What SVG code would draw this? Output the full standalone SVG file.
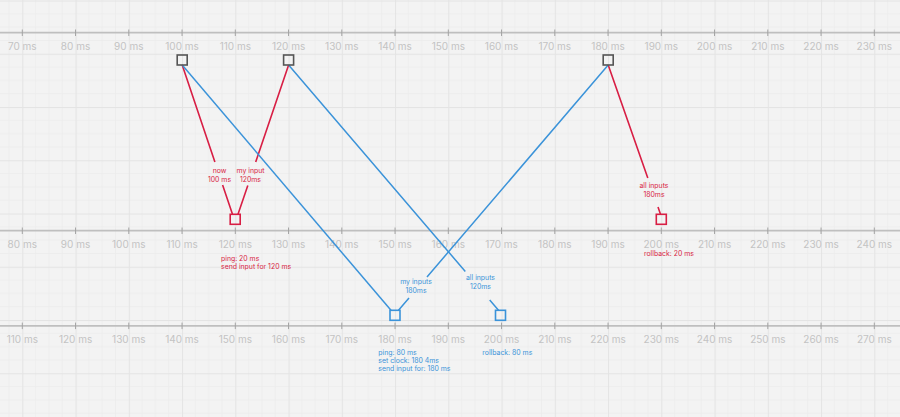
<svg xmlns="http://www.w3.org/2000/svg" width="900" height="417" viewBox="0 0 900 417">
<style>
.tl{font-family:Inter,"Noto Sans","Liberation Sans",sans-serif;font-size:10px;fill:#c3c3c3;text-anchor:middle}
.ax{stroke:#bfbfbf;stroke-width:1.7;fill:none}
.tk{stroke:#a3a3a3;stroke-width:1;fill:none}
.an{font-family:Inter,"Noto Sans","Liberation Sans",sans-serif;font-size:6.9px}
.r{fill:#d81e44}
.b{fill:#3b93d9}
.mid{text-anchor:middle}
.nd-g{fill:none;stroke:#555;stroke-width:1.6}
.nd-r{fill:none;stroke:#d81e44;stroke-width:1.6}
.nd-b{fill:none;stroke:#3b93d9;stroke-width:1.6}
.lr{stroke:#d81e44;stroke-width:1.6;fill:none}
.lb{stroke:#3b93d9;stroke-width:1.5;fill:none}
</style>
<defs>
<pattern id="grid" patternUnits="userSpaceOnUse" x="22.3" y="0.5" width="53.25" height="53.25">
<rect width="53.25" height="53.25" fill="#f3f3f3"/>
<path d="M13.31 0V53.25M26.63 0V53.25M39.94 0V53.25M0 13.31H53.25M0 26.63H53.25M0 39.94H53.25" stroke="#ebebeb" stroke-width="0.8"/>
<rect x="0" y="0" width="1" height="53.25" fill="#e4e4e4"/>
<rect x="0" y="0" width="53.25" height="1" fill="#e4e4e4"/>
</pattern>
</defs>
<rect width="900" height="417" fill="url(#grid)"/>

<g id="axis-top">
<line class="ax" x1="0" y1="32.7" x2="900" y2="32.7"/>
<path class="tk" d="M22.3 29.5v6.5M75.55 29.5v6.5M128.8 29.5v6.5M182.05 29.5v6.5M235.3 29.5v6.5M288.55 29.5v6.5M341.8 29.5v6.5M395.05 29.5v6.5M448.3 29.5v6.5M501.55 29.5v6.5M554.8 29.5v6.5M608.05 29.5v6.5M661.3 29.5v6.5M714.55 29.5v6.5M767.8 29.5v6.5M821.05 29.5v6.5M874.3 29.5v6.5"/>
<text class="tl" x="22.3" y="49.5">70 ms</text>
<text class="tl" x="75.55" y="49.5">80 ms</text>
<text class="tl" x="128.8" y="49.5">90 ms</text>
<text class="tl" x="182.05" y="49.5">100 ms</text>
<text class="tl" x="235.3" y="49.5">110 ms</text>
<text class="tl" x="288.55" y="49.5">120 ms</text>
<text class="tl" x="341.8" y="49.5">130 ms</text>
<text class="tl" x="395.05" y="49.5">140 ms</text>
<text class="tl" x="448.3" y="49.5">150 ms</text>
<text class="tl" x="501.55" y="49.5">160 ms</text>
<text class="tl" x="554.8" y="49.5">170 ms</text>
<text class="tl" x="608.05" y="49.5">180 ms</text>
<text class="tl" x="661.3" y="49.5">190 ms</text>
<text class="tl" x="714.55" y="49.5">200 ms</text>
<text class="tl" x="767.8" y="49.5">210 ms</text>
<text class="tl" x="821.05" y="49.5">220 ms</text>
<text class="tl" x="874.3" y="49.5">230 ms</text>
</g>

<g id="axis-middle">
<line class="ax" x1="0" y1="230.7" x2="900" y2="230.7"/>
<path class="tk" d="M22.3 227.5v6.5M75.55 227.5v6.5M128.8 227.5v6.5M182.05 227.5v6.5M235.3 227.5v6.5M288.55 227.5v6.5M341.8 227.5v6.5M395.05 227.5v6.5M448.3 227.5v6.5M501.55 227.5v6.5M554.8 227.5v6.5M608.05 227.5v6.5M661.3 227.5v6.5M714.55 227.5v6.5M767.8 227.5v6.5M821.05 227.5v6.5M874.3 227.5v6.5"/>
<text class="tl" x="22.3" y="247.5">80 ms</text>
<text class="tl" x="75.55" y="247.5">90 ms</text>
<text class="tl" x="128.8" y="247.5">100 ms</text>
<text class="tl" x="182.05" y="247.5">110 ms</text>
<text class="tl" x="235.3" y="247.5">120 ms</text>
<text class="tl" x="288.55" y="247.5">130 ms</text>
<text class="tl" x="341.8" y="247.5">140 ms</text>
<text class="tl" x="395.05" y="247.5">150 ms</text>
<text class="tl" x="448.3" y="247.5">160 ms</text>
<text class="tl" x="501.55" y="247.5">170 ms</text>
<text class="tl" x="554.8" y="247.5">180 ms</text>
<text class="tl" x="608.05" y="247.5">190 ms</text>
<text class="tl" x="661.3" y="247.5">200 ms</text>
<text class="tl" x="714.55" y="247.5">210 ms</text>
<text class="tl" x="767.8" y="247.5">220 ms</text>
<text class="tl" x="821.05" y="247.5">230 ms</text>
<text class="tl" x="874.3" y="247.5">240 ms</text>
</g>

<g id="axis-bottom">
<line class="ax" x1="0" y1="325.8" x2="900" y2="325.8"/>
<path class="tk" d="M22.3 322.6v6.5M75.55 322.6v6.5M128.8 322.6v6.5M182.05 322.6v6.5M235.3 322.6v6.5M288.55 322.6v6.5M341.8 322.6v6.5M395.05 322.6v6.5M448.3 322.6v6.5M501.55 322.6v6.5M554.8 322.6v6.5M608.05 322.6v6.5M661.3 322.6v6.5M714.55 322.6v6.5M767.8 322.6v6.5M821.05 322.6v6.5M874.3 322.6v6.5"/>
<text class="tl" x="22.3" y="342.5">110 ms</text>
<text class="tl" x="75.55" y="342.5">120 ms</text>
<text class="tl" x="128.8" y="342.5">130 ms</text>
<text class="tl" x="182.05" y="342.5">140 ms</text>
<text class="tl" x="235.3" y="342.5">150 ms</text>
<text class="tl" x="288.55" y="342.5">160 ms</text>
<text class="tl" x="341.8" y="342.5">170 ms</text>
<text class="tl" x="395.05" y="342.5">180 ms</text>
<text class="tl" x="448.3" y="342.5">190 ms</text>
<text class="tl" x="501.55" y="342.5">200 ms</text>
<text class="tl" x="554.8" y="342.5">210 ms</text>
<text class="tl" x="608.05" y="342.5">220 ms</text>
<text class="tl" x="661.3" y="342.5">230 ms</text>
<text class="tl" x="714.55" y="342.5">240 ms</text>
<text class="tl" x="767.8" y="342.5">250 ms</text>
<text class="tl" x="821.05" y="342.5">260 ms</text>
<text class="tl" x="874.3" y="342.5">270 ms</text>
</g>

<g id="connectors">
<path class="lr" d="M182.2 65L214.9 162M222.6 185L232.5 214.3"/>
<path class="lr" d="M238 214.3L247.8 185.5M255.7 162L288.6 65"/>
<path class="lr" d="M608.2 65L647.8 178M658 207L660.5 214.3"/>
<path class="lb" d="M182.2 65L391 310.3"/>
<path class="lb" d="M398.5 310.3L409 298M427 277L608.2 65"/>
<path class="lb" d="M288.6 65L465.3 271.5M489.7 300L498.5 310.3"/>
<text class="an r mid" x="219.5" y="172.5">now</text>
<text class="an r mid" x="219.5" y="181.7">100 ms</text>
<text class="an r mid" x="250.5" y="172.5">my input</text>
<text class="an r mid" x="250.5" y="181.7">120ms</text>
<text class="an r mid" x="654" y="187.5">all inputs</text>
<text class="an r mid" x="654" y="196.7">180ms</text>
<text class="an b mid" x="416" y="284.3">my inputs</text>
<text class="an b mid" x="416" y="292.8">180ms</text>
<text class="an b mid" x="480.5" y="279.5">all inputs</text>
<text class="an b mid" x="480.5" y="288.5">120ms</text>
</g>

<g id="node-a-100">
<rect class="nd-g" x="177.2" y="55" width="10" height="10"/>
</g>
<g id="node-a-120">
<rect class="nd-g" x="283.6" y="55" width="10" height="10"/>
</g>
<g id="node-a-180">
<rect class="nd-g" x="603.2" y="55" width="10" height="10"/>
</g>
<g id="node-b-120">
<rect class="nd-r" x="230.2" y="214.3" width="10" height="10"/>
<text class="an r" x="221" y="260.8">ping: 20 ms</text>
<text class="an r" x="221" y="268.5">send input for 120 ms</text>
</g>
<g id="node-b-200">
<rect class="nd-r" x="656.3" y="214.3" width="10" height="10"/>
<text class="an r" x="644" y="255.7">rollback: 20 ms</text>
</g>
<g id="node-c-180">
<rect class="nd-b" x="390" y="310.3" width="10" height="10"/>
<text class="an b" x="378.3" y="355.2">ping: 80 ms</text>
<text class="an b" x="378.3" y="362.9">set clock: 180 4ms</text>
<text class="an b" x="378.3" y="370.6">send input for: 180 ms</text>
</g>
<g id="node-c-200">
<rect class="nd-b" x="495.5" y="310.3" width="10" height="10"/>
<text class="an b" x="482.3" y="355.2">rollback: 80 ms</text>
</g>
</svg>
